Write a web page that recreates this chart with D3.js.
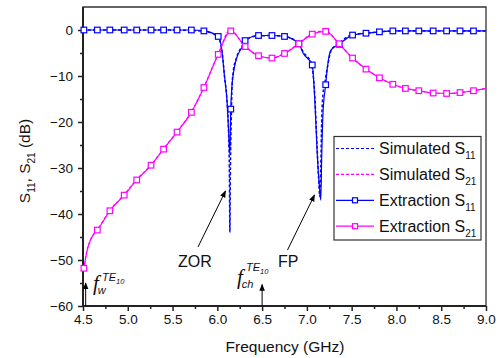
<!DOCTYPE html>
<html>
<head>
<meta charset="utf-8">
<script src="https://cdn.jsdelivr.net/npm/d3@7"></script>
<style>
  body { margin: 0; background: #fff; }
  svg { display: block; font-family: "Liberation Sans", Arial, sans-serif; }
</style>
</head>
<body>
<svg width="504" height="358"></svg>
<script>
// marker frequencies (GHz) and values (dB)
const freq = [4.51, 4.66, 4.80, 4.96, 5.10, 5.26, 5.40, 5.55, 5.71, 5.85, 6.01, 6.15, 6.31, 6.46, 6.61, 6.75, 6.91, 7.06, 7.21, 7.36, 7.51, 7.66, 7.81, 7.96, 8.10, 8.25, 8.41, 8.56, 8.71, 8.86];
const extS11 = [0, 0, 0, 0, 0, 0, 0, 0, 0, -0.2, -1.4, -17.2, -2.3, -1.2, -1.2, -1.4, -3.0, -7.6, -11.9, -3.1, -1.1, -0.7, -0.4, -0.2, -0.2, -0.2, -0.2, -0.2, -0.2, -0.2];
const extS21 = [-51.8, -43.5, -39.3, -35.9, -32.6, -29.4, -25.9, -22.2, -17.9, -12.5, -5.3, -0.2, -3.6, -5.6, -6.1, -5.1, -3.0, -0.9, -0.3, -3.0, -6.1, -8.5, -10.4, -11.8, -12.7, -13.2, -13.7, -13.8, -13.6, -13.2];

// extra points of the extraction lines between markers
const extS11F = [4.5, 6.05, 6.08, 6.11, 6.125, 6.14, 6.16, 6.18, 6.21, 6.28, 6.96, 7.09, 7.115, 7.14, 7.155, 7.165, 7.18, 7.23, 7.27, 9.0];
const extS11V = [0, -4.3, -10.1, -15.9, -21.7, -27, -13, -9.4, -6.5, -3.6, -5.1, -15.9, -26.7, -34, -37, -28, -18, -8, -4.3, -0.2];
const extS21F = [4.541, 4.578, 4.615, 9.0];
const extS21V = [-48.4, -45.9, -44.5, -12.7];

// simulated curves
const simS11F = [4.5, 4.8, 5.1, 5.4, 5.7, 5.85, 6.0, 6.05, 6.08, 6.11, 6.125, 6.135, 6.14, 6.145, 6.155, 6.165, 6.18, 6.21, 6.28, 6.4, 6.6, 6.75, 6.9, 6.96, 7.05, 7.09, 7.115, 7.13, 7.145, 7.155, 7.165, 7.18, 7.2, 7.23, 7.27, 7.35, 7.5, 7.7, 8.0, 8.5, 9.0];
const simS11V = [0, 0, 0, 0, -0.1, -0.3, -1.3, -4.3, -10, -16, -22, -32, -44, -32, -20, -12, -8.7, -6.3, -3.4, -1.4, -1.2, -1.4, -2.8, -4.8, -7.3, -15, -26, -32, -36.2, -30, -20, -14, -11.5, -8, -4.5, -3, -1.1, -0.6, -0.2, -0.2, -0.2];
const simS21F = [4.51, 4.54, 4.58, 4.62, 4.66, 4.80, 4.96, 5.10, 5.26, 5.40, 5.55, 5.71, 5.85, 6.01, 6.14, 6.31, 6.46, 6.61, 6.75, 6.91, 7.06, 7.2, 7.36, 7.51, 7.66, 7.81, 7.96, 8.10, 8.25, 8.41, 8.56, 8.71, 8.86, 9.0];
const simS21V = [-52, -48.3, -45.8, -44.4, -43.4, -39.2, -35.8, -32.5, -29.3, -25.8, -22.1, -17.8, -12.4, -5.2, -0.1, -3.5, -5.6, -6.1, -5.0, -2.9, -0.8, -0.2, -3.0, -6.1, -8.5, -10.4, -11.8, -12.7, -13.2, -13.7, -13.8, -13.6, -13.2, -12.7];

const xTicks = [4.5, 5.0, 5.5, 6.0, 6.5, 7.0, 7.5, 8.0, 8.5, 9.0];
const yTicks = [0, -10, -20, -30, -40, -50, -60];

const blue = "#0000ff", pink = "#ff00ff";
const pLeft = 83, pRight = 486, pTop = 7, pBottom = 306;

const svg = d3.select("svg");
const x = d3.scaleLinear().domain([4.5, 9]).range([pLeft, pRight]);
const y = d3.scaleLinear().domain([-60, 5]).range([pBottom, pTop]);

const defs = svg.append("defs");
defs.append("clipPath").attr("id", "clip")
  .append("rect").attr("x", pLeft).attr("y", pTop).attr("width", pRight - pLeft).attr("height", pBottom - pTop);
defs.append("marker").attr("id", "arr").attr("viewBox", "0 0 10 10")
  .attr("refX", 9).attr("refY", 5).attr("markerWidth", 7).attr("markerHeight", 7)
  .attr("markerUnits", "userSpaceOnUse").attr("orient", "auto")
  .append("path").attr("d", "M0,1 L10,5 L0,9 Z").attr("fill", "#000");

// axes
svg.append("g").attr("transform", `translate(0,${pBottom})`)
  .call(d3.axisBottom(x).tickValues(xTicks).tickSize(5).tickPadding(3).tickFormat(d3.format(".1f")));
svg.append("g").attr("transform", `translate(0,${pBottom})`)
  .call(d3.axisBottom(x).tickValues(d3.range(4.75, 9, 0.5)).tickSize(3).tickFormat(""));
svg.append("g").attr("transform", `translate(${pLeft},0)`)
  .call(d3.axisLeft(y).tickValues(yTicks).tickSize(5).tickPadding(5).tickFormat(d3.format("d")));
svg.append("g").attr("transform", `translate(${pLeft},0)`)
  .call(d3.axisLeft(y).tickValues([-5, -15, -25, -35, -45, -55]).tickSize(3).tickFormat(""));
svg.selectAll(".domain").remove();
svg.selectAll(".tick line").attr("stroke", "#222").attr("stroke-width", 1.5);
svg.selectAll(".tick text").attr("font-size", 13.5).attr("fill", "#111")
  .attr("font-family", "Liberation Sans, Arial, sans-serif");

// frame
svg.append("path")
  .attr("d", `M${pLeft},${pBottom}H${pRight}V${pTop}H${pLeft}Z`)
  .attr("fill", "none").attr("stroke", "#333").attr("stroke-width", 1.3);
svg.append("path")
  .attr("d", `M${pLeft},${pTop}V${pBottom}H${pRight}`)
  .attr("fill", "none").attr("stroke", "#222").attr("stroke-width", 2);

// axis labels
svg.append("text").attr("x", 285).attr("y", 352).attr("text-anchor", "middle")
  .attr("font-size", 15.5).attr("fill", "#111").text("Frequency (GHz)");
const yl = svg.append("text").attr("transform", "translate(29.5,161) rotate(-90)")
  .attr("text-anchor", "middle").attr("font-size", 15.5).attr("fill", "#111");
yl.append("tspan").text("S");
yl.append("tspan").attr("dy", 5).attr("font-size", 10).text("11");
yl.append("tspan").attr("dy", -5).text(", S");
yl.append("tspan").attr("dy", 5).attr("font-size", 10).text("21");
yl.append("tspan").attr("dy", -5).text(" (dB)");

function pts(fs, vs) { return fs.map((f, i) => [f, vs[i]]); }
function merged(a, b) { return a.concat(b).sort((p, q) => p[0] - q[0]); }

const line = d3.line().x(d => x(d[0])).y(d => y(d[1])).curve(d3.curveMonotoneX);
const plot = svg.append("g").attr("clip-path", "url(#clip)");

const s11Mk = pts(freq, extS11), s21Mk = pts(freq, extS21);

plot.append("path").datum(merged(s11Mk, pts(extS11F, extS11V)))
  .attr("d", line).attr("fill", "none").attr("stroke", blue).attr("stroke-width", 1.2);
plot.append("path").datum(merged(s21Mk, pts(extS21F, extS21V)))
  .attr("d", line).attr("fill", "none").attr("stroke", pink).attr("stroke-width", 1.2);
plot.append("path").datum(pts(simS11F, simS11V))
  .attr("d", line).attr("fill", "none").attr("stroke", blue).attr("stroke-width", 1.5)
  .attr("stroke-dasharray", "3,2");
plot.append("path").datum(pts(simS21F, simS21V))
  .attr("d", line).attr("fill", "none").attr("stroke", pink).attr("stroke-width", 1.2)
  .attr("stroke-dasharray", "3,2");

function markers(data, col) {
  svg.append("g").selectAll("rect").data(data).enter().append("rect")
    .attr("x", d => x(d[0]) - 2.8).attr("y", d => y(d[1]) - 2.8)
    .attr("width", 5.6).attr("height", 5.6)
    .attr("fill", "#fff").attr("stroke", col).attr("stroke-width", 1.2);
}
markers(s11Mk, blue);
markers(s21Mk, pink);

// legend
const legendItems = [
  {name: "Simulated S", sub: "11", col: blue, dash: "3,2", mk: false},
  {name: "Simulated S", sub: "21", col: pink, dash: "3,2", mk: false},
  {name: "Extraction S", sub: "11", col: blue, dash: null, mk: true},
  {name: "Extraction S", sub: "21", col: pink, dash: null, mk: true}
];
svg.append("rect").attr("x", 334).attr("y", 136.5).attr("width", 147).attr("height", 103.5)
  .attr("fill", "#fff").attr("stroke", "#333").attr("stroke-width", 1.2);
const lg = svg.selectAll(".legend").data(legendItems).enter().append("g")
  .attr("class", "legend")
  .attr("transform", (d, i) => `translate(0,${148.5 + i * 25.9})`);
lg.append("line").attr("x1", 336).attr("x2", 374).attr("y1", 0).attr("y2", 0)
  .attr("stroke", d => d.col).attr("stroke-width", 1.2)
  .attr("stroke-dasharray", d => d.dash);
lg.filter(d => d.mk).append("rect").attr("x", 352.5).attr("y", -2.5)
  .attr("width", 5).attr("height", 5).attr("fill", "#fff")
  .attr("stroke", d => d.col).attr("stroke-width", 1.2);
const lt = lg.append("text").attr("x", 379).attr("y", 5.5).attr("font-size", 16).attr("fill", "#111");
lt.append("tspan").text(d => d.name);
lt.append("tspan").attr("dy", 5).attr("font-size", 10).text(d => d.sub);

// annotations
function arrow(x1, y1, x2, y2) {
  svg.append("line").attr("x1", x1).attr("y1", y1).attr("x2", x2).attr("y2", y2)
    .attr("stroke", "#000").attr("stroke-width", 1).attr("marker-end", "url(#arr)");
}
arrow(198, 247, 225.5, 191);
arrow(287.5, 250, 314.5, 195);
svg.append("text").attr("x", 178).attr("y", 266.5).attr("font-size", 16).attr("fill", "#111").text("ZOR");
svg.append("text").attr("x", 278).attr("y", 266.5).attr("font-size", 16).attr("fill", "#111").text("FP");

arrow(x(4.53), pBottom, x(4.53), 283);
arrow(x(6.5), pBottom, x(6.5), 284.5);

function fLabel(fx, fy, sub, subDx) {
  const t = svg.append("text").attr("x", fx).attr("y", fy).attr("fill", "#111")
    .attr("font-style", "italic");
  t.append("tspan").attr("font-family", "Liberation Serif, serif").attr("font-size", 21).text("f");
  t.append("tspan").attr("dx", subDx).attr("dy", 4).attr("font-size", 11).text(sub);
  return t;
}
function teLabel(tx, ty) {
  const t = svg.append("text").attr("x", tx).attr("y", ty).attr("fill", "#111")
    .attr("font-style", "italic").attr("font-size", 11);
  t.append("tspan").text("TE");
  t.append("tspan").attr("dy", 3).attr("font-size", 7.5).text("10");
}
fLabel(93, 290, "w", -1);
teLabel(102, 281);
fLabel(237, 284, "ch", -1);
teLabel(246, 271);
</script>
</body>
</html>
